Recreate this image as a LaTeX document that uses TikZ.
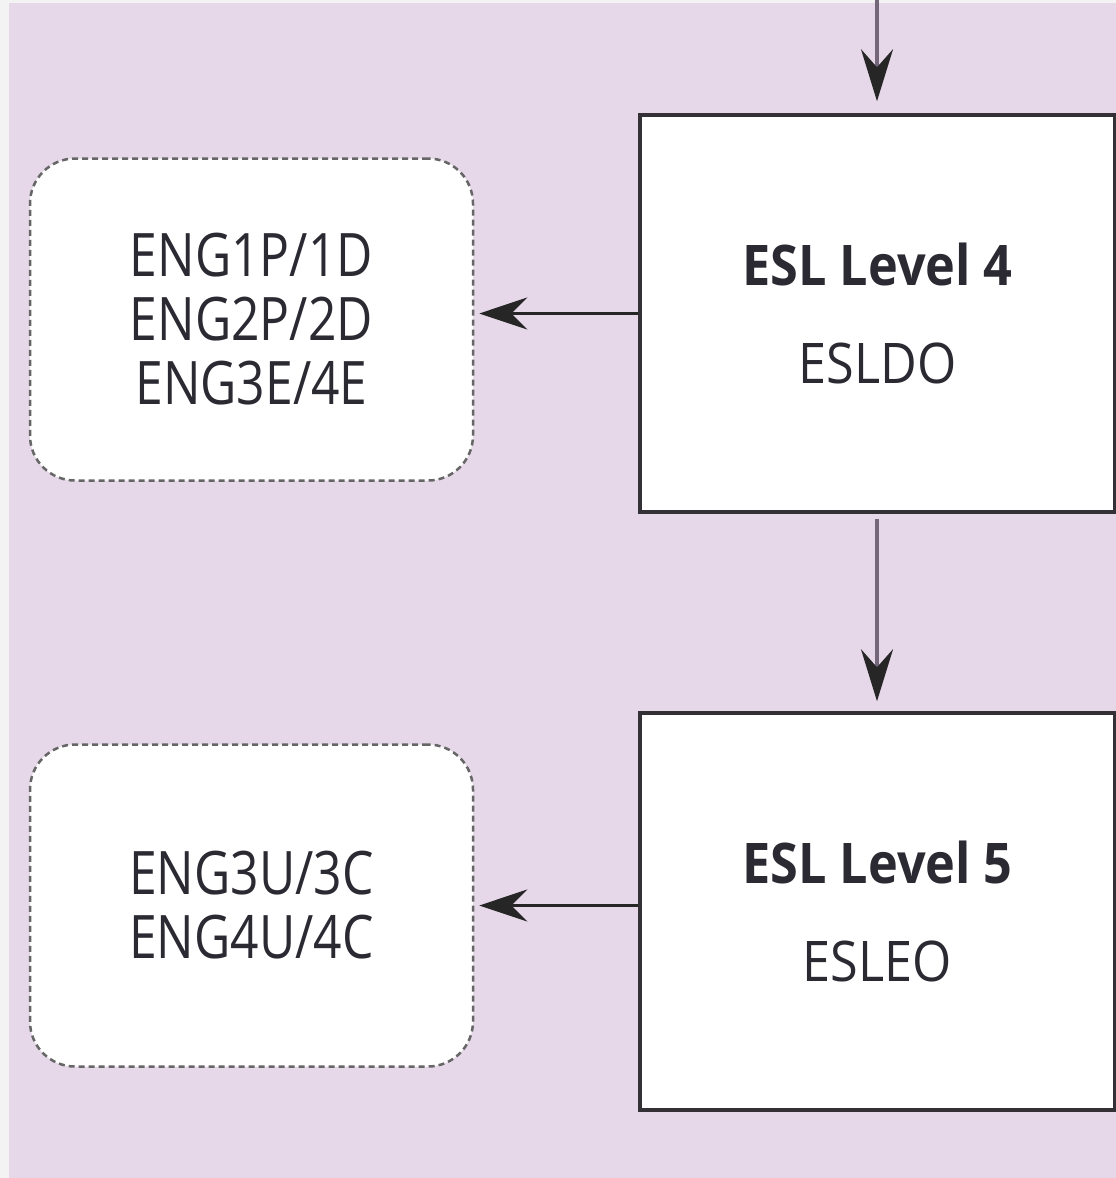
\documentclass[tikz,border=0pt]{standalone}
\usepackage{fontspec}
\setmainfont{Open Sans}
\newfontfamily\coursefont{Open Sans}[FakeStretch=0.83]
\newfontfamily\levelfont{Open Sans}[FakeStretch=0.9]
\usepackage{tikz}
\usetikzlibrary{arrows.meta,positioning,calc}

\definecolor{panelbg}{HTML}{E6D8E9}
\definecolor{edgegray}{HTML}{F4F3F4}
\definecolor{boxline}{HTML}{333136}
\definecolor{flowline}{HTML}{75677A}
\definecolor{inktext}{HTML}{2B2A33}

\begin{document}
\begin{tikzpicture}[x=1pt,y=-1pt,
    levelbox/.style={draw=boxline, line width=3.5pt, fill=white,
      minimum width=475pt, minimum height=397pt, align=center,
      text=inktext, font=\levelfont\fontsize{56}{60}\selectfont},
    coursebox/.style={draw=black!60, line width=2.5pt, fill=white,
      dash pattern=on 6pt off 4pt, rounded corners=45pt,
      minimum width=443pt, minimum height=322pt, align=center,
      text=inktext, font=\coursefont\fontsize{60}{64}\selectfont},
    downarrow/.style={draw=flowline, line width=3.5pt,
      -{Stealth[length=52pt,width=32pt,inset=18pt,color=black!85,fill=black!85]}},
    sidearrow/.style={draw=black!85, line width=3pt,
      -{Stealth[length=48pt,width=32pt,inset=16pt]}}]
  \useasboundingbox (0,0) rectangle (1116,1178);
  \fill[edgegray] (0,0) rectangle (1116,1178);
  \fill[panelbg] (9,3) rectangle (1116,1178);

  % levels
  \node[levelbox] (lvl4) at (877.5,313.5) {\textbf{ESL Level 4}\\[38pt]ESLDO};
  \node[levelbox] (lvl5) at (877.5,911.5) {\textbf{ESL Level 5}\\[38pt]ESLEO};

  % course options
  \node[coursebox] (eng4) at (251.5,319.5) {ENG1P/1D\\ENG2P/2D\\ENG3E/4E};
  \node[coursebox] (eng5) at (251.5,905.5) {ENG3U/3C\\ENG4U/4C};

  \coordinate (entry) at (877,0);
  \draw[downarrow, shorten >=12pt] (entry) -- (lvl4.north -| entry);
  \draw[downarrow, shorten <=5pt, shorten >=10pt] (lvl4.south -| entry) -- (lvl5.north -| entry);
  \draw[sidearrow, shorten >=5pt] (lvl4.west) -- (lvl4.west -| eng4.east);
  \draw[sidearrow, shorten >=5pt] (eng5.east -| lvl5.west) -- (eng5.east);
\end{tikzpicture}
\end{document}
